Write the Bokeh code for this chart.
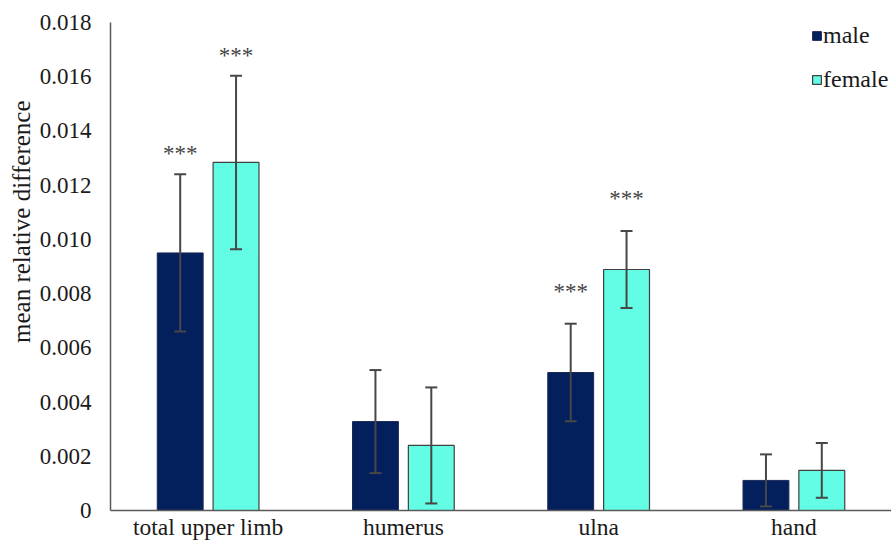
from bokeh.plotting import figure
from bokeh.models import (ColumnDataSource, FactorRange, Range1d, FixedTicker, Whisker,
                          TeeHead, Legend, LegendItem, Title)
from bokeh.transform import dodge
from bokeh.embed import file_html
from bokeh.resources import INLINE

categories = ["total upper limb", "humerus", "ulna", "hand"]
male_mean = [0.0095, 0.00328, 0.00509, 0.00111]
male_err = [0.0029, 0.0019, 0.0018, 0.00096]
female_mean = [0.01284, 0.0024, 0.00889, 0.00148]
female_err = [0.0032, 0.00214, 0.00142, 0.00101]
male_sig = ["***", "", "***", ""]
female_sig = ["***", "", "***", ""]
y_ticks = [0, 0.002, 0.004, 0.006, 0.008, 0.010, 0.012, 0.014, 0.016, 0.018]
y_tick_labels = ["0", "0.002", "0.004", "0.006", "0.008", "0.010", "0.012", "0.014", "0.016", "0.018"]

FONT = "Liberation Serif"
MALE_C = "#031f5c"
FEMALE_C = "#63fce5"
ERR_C = "#474747"

# vertical gap between the top of an error bar and its significance marker
star_gap = [0.00075, 0.0006, 0.0012, 0.0006]

src = ColumnDataSource(dict(
    cat=categories,
    m=male_mean, f=female_mean,
    m_lo=[a - b for a, b in zip(male_mean, male_err)],
    m_hi=[a + b for a, b in zip(male_mean, male_err)],
    f_lo=[a - b for a, b in zip(female_mean, female_err)],
    f_hi=[a + b for a, b in zip(female_mean, female_err)],
    m_sig=male_sig, f_sig=female_sig,
    m_sy=[a + b + g for a, b, g in zip(male_mean, male_err, star_gap)],
    f_sy=[a + b + g for a, b, g in zip(female_mean, female_err, star_gap)],
))

p = figure(width=891, height=543, output_backend="svg", toolbar_location=None,
           x_range=FactorRange(factors=categories, range_padding=0),
           y_range=Range1d(0, 0.018),
           min_border_left=110, min_border_right=0, min_border_top=22, min_border_bottom=33)
p.outline_line_color = None
p.xgrid.grid_line_color = None
p.ygrid.grid_line_color = None
p.background_fill_color = "white"

off = 0.143
bw = 0.235
rm = p.vbar(x=dodge("cat", -off, range=p.x_range), top="m", width=bw, source=src,
            fill_color=MALE_C, line_color="#1a2a55", line_width=1)
rf = p.vbar(x=dodge("cat", off, range=p.x_range), top="f", width=bw, source=src,
            fill_color=FEMALE_C, line_color="#404040", line_width=1.2)

for key, o in (("m", -off), ("f", off)):
    w = Whisker(source=src, base=dodge("cat", o, range=p.x_range), lower=key + "_lo", upper=key + "_hi",
                level="overlay", line_color=ERR_C, line_width=2,
                upper_head=TeeHead(size=12, line_color=ERR_C, line_width=2),
                lower_head=TeeHead(size=12, line_color=ERR_C, line_width=2))
    p.add_layout(w)
    p.text(x=dodge("cat", o, range=p.x_range), y=key + "_sy", text=key + "_sig", source=src,
           text_font={"value": FONT}, text_font_size={"value": "23px"}, text_color="#444444",
           text_align="center", text_baseline="alphabetic")

xa = p.xaxis[0]
ya = p.yaxis[0]
ya.ticker = FixedTicker(ticks=y_ticks)
ya.major_label_overrides = {t: l for t, l in zip(y_ticks, y_tick_labels)}
for ax in (xa, ya):
    ax.major_tick_line_color = None
    ax.minor_tick_line_color = None
    ax.major_tick_out = 0
    ax.major_tick_in = 0
    ax.minor_tick_out = 0
    ax.axis_line_color = "#595959"
    ax.axis_line_width = 1.5
    ax.major_label_text_font = FONT
    ax.major_label_text_color = "#1a1a1a"
ya.major_label_text_font_size = "23px"
xa.major_label_text_font_size = "23.5px"
ya.major_label_standoff = 19
xa.major_label_standoff = 3
xa.major_label_orientation = "horizontal"

title = Title(text="mean relative difference", align="right", offset=78,
              text_font=FONT, text_font_size="25px", text_font_style="normal",
              text_color="#1a1a1a", standoff=4)
p.add_layout(title, "left")

legend = Legend(items=[LegendItem(label="male", renderers=[rm]),
                       LegendItem(label="female", renderers=[rf])],
                location=(701, 417), orientation="vertical",
                glyph_width=11, glyph_height=11, label_standoff=1, label_height=28,
                spacing=16, padding=0, margin=0,
                label_text_font=FONT, label_text_font_size="24px", label_text_color="#1a1a1a",
                border_line_color=None, background_fill_alpha=0)
p.add_layout(legend, "center")

open("out.html", "w").write(file_html(p, INLINE))
